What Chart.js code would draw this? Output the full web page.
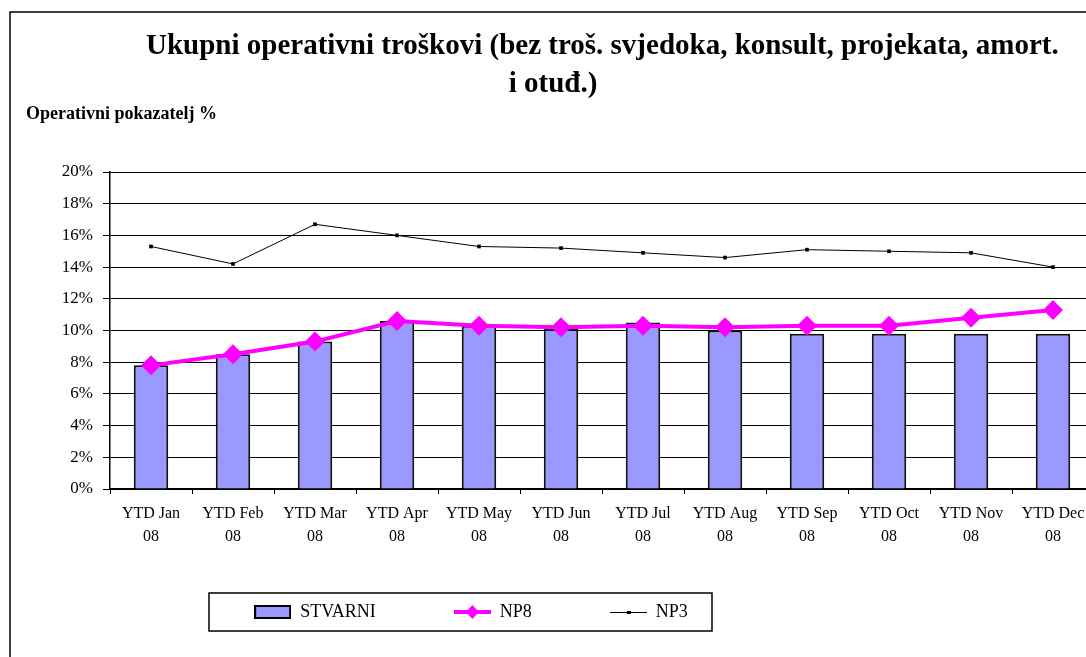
<!DOCTYPE html>
<html>
<head>
<meta charset="utf-8">
<script src="https://cdn.jsdelivr.net/npm/chart.js@4"></script>
<style>
    html, body { margin: 0; padding: 0; overflow: hidden; background: #fff; }
    #wrap { position: absolute; left: 0; top: 0; width: 1110px; height: 657px; }
</style>
</head>
<body>
<div id="wrap"><canvas id="chart" width="1110" height="657"></canvas></div>
<script>
// 数据
const categories = [
    ['YTD Jan', '08'], ['YTD Feb', '08'], ['YTD Mar', '08'], ['YTD Apr', '08'],
    ['YTD May', '08'], ['YTD Jun', '08'], ['YTD Jul', '08'], ['YTD Aug', '08'],
    ['YTD Sep', '08'], ['YTD Oct', '08'], ['YTD Nov', '08'], ['YTD Dec', '08']
];
const stvarni = [7.8, 8.5, 9.3, 10.6, 10.3, 10.1, 10.5, 10.0, 9.8, 9.8, 9.8, 9.8];
const np8 = [7.8, 8.5, 9.3, 10.6, 10.3, 10.2, 10.3, 10.2, 10.3, 10.3, 10.8, 11.3];
const np3 = [15.3, 14.2, 16.7, 16.0, 15.3, 15.2, 14.9, 14.6, 15.1, 15.0, 14.9, 14.0];
const yTicks = [0, 2, 4, 6, 8, 10, 12, 14, 16, 18, 20];

const titleLine1 = 'Ukupni operativni troškovi (bez troš. svjedoka, konsult, projekata, amort.';
const titleLine2 = 'i otuđ.)';
const axisTitle = 'Operativni pokazatelj %';

const SERIF = '"Liberation Serif", "Times New Roman", serif';
const BAR_FILL = '#9999FF';
const NP8_COLOR = '#FF00FF';

// 图例小图标
function makeIcon(kind) {
    const c = document.createElement('canvas');
    c.width = 37;
    c.height = 20;
    const g = c.getContext('2d');
    if (kind === 'bar') {
        g.fillStyle = BAR_FILL;
        g.fillRect(1, 4, 35, 12);
        g.strokeStyle = '#000';
        g.lineWidth = 2;
        g.strokeRect(1, 4, 35, 12);
    } else if (kind === 'np8') {
        g.strokeStyle = NP8_COLOR;
        g.lineWidth = 4;
        g.beginPath();
        g.moveTo(0, 10);
        g.lineTo(37, 10);
        g.stroke();
        g.fillStyle = NP8_COLOR;
        g.beginPath();
        g.moveTo(18.5, 3);
        g.lineTo(25, 10);
        g.lineTo(18.5, 17);
        g.lineTo(12, 10);
        g.closePath();
        g.fill();
    } else {
        g.strokeStyle = '#000';
        g.lineWidth = 1;
        g.beginPath();
        g.moveTo(0, 10.5);
        g.lineTo(37, 10.5);
        g.stroke();
        g.fillStyle = '#000';
        g.fillRect(17, 9, 4, 3);
    }
    return c;
}
const legendIcons = [makeIcon('bar'), makeIcon('np8'), makeIcon('np3')];

// 标题、边框和图例框
const decorPlugin = {
    id: 'decor',
    afterLayout(chart) {
        // 图例位置调整
        const lg = chart.legend;
        lg.left = 105;
        lg.right = 837;
        lg.top = 525;
    },
    beforeDraw(chart) {
        const ctx = chart.ctx;
        ctx.save();
        ctx.fillStyle = '#fff';
        ctx.fillRect(0, 0, chart.width, chart.height);
        ctx.strokeStyle = '#000';
        ctx.lineWidth = 1.5;
        ctx.strokeRect(10, 12, 1090, 700);

        ctx.fillStyle = '#000';
        ctx.textBaseline = 'alphabetic';
        ctx.font = 'bold 29px ' + SERIF;
        ctx.textAlign = 'left';
        ctx.fillText(titleLine1, 146, 54);
        ctx.textAlign = 'center';
        ctx.fillText(titleLine2, 553, 92);

        ctx.font = 'bold 18px ' + SERIF;
        ctx.textAlign = 'left';
        ctx.fillText(axisTitle, 26, 119);

        // 图例边框
        ctx.lineWidth = 1.5;
        ctx.strokeRect(209, 593, 503, 38);
        ctx.restore();
    }
};

const ctx = document.getElementById('chart').getContext('2d');
const chart = new Chart(ctx, {
    data: {
        labels: categories,
        datasets: [
            {
                type: 'line',
                label: 'NP8',
                data: np8,
                borderColor: NP8_COLOR,
                backgroundColor: NP8_COLOR,
                borderWidth: 4,
                pointStyle: 'rectRot',
                pointRadius: 10,
                pointBorderWidth: 0,
                tension: 0,
                order: 1
            },
            {
                type: 'line',
                label: 'NP3',
                data: np3,
                borderColor: '#000',
                backgroundColor: '#000',
                borderWidth: 1,
                pointStyle: 'rect',
                pointRadius: 2.6,
                pointBorderWidth: 0,
                tension: 0,
                order: 2
            },
            {
                type: 'bar',
                label: 'STVARNI',
                data: stvarni,
                backgroundColor: BAR_FILL,
                borderColor: '#111',
                borderWidth: 2,
                barPercentage: 0.42,
                categoryPercentage: 1.0,
                order: 3
            }
        ]
    },
    options: {
        responsive: false,
        animation: false,
        layout: {
            padding: { top: 172, left: 0, right: 16, bottom: 2 }
        },
        plugins: {
            title: { display: false },
            tooltip: { enabled: false },
            legend: {
                display: true,
                position: 'bottom',
                align: 'center',
                labels: {
                    usePointStyle: true,
                    pointStyleWidth: 37,
                    boxHeight: 18,
                    padding: 78,
                    color: '#000',
                    font: { family: SERIF, size: 18 },
                    generateLabels(chart) {
                        const order = ['STVARNI', 'NP8', 'NP3'];
                        return order.map((name, i) => {
                            const idx = chart.data.datasets.findIndex(d => d.label === name);
                            return {
                                text: name,
                                datasetIndex: idx,
                                pointStyle: legendIcons[i],
                                fillStyle: 'transparent',
                                strokeStyle: 'transparent',
                                lineWidth: 0,
                                fontColor: '#000',
                                hidden: false
                            };
                        });
                    }
                }
            }
        },
        scales: {
            x: {
                offset: true,
                grid: {
                    offset: true,
                    drawOnChartArea: false,
                    drawTicks: true,
                    tickLength: 5,
                    tickColor: '#000',
                    color: '#000'
                },
                border: { color: '#000', width: 1.5 },
                ticks: {
                    color: '#000',
                    font: { family: SERIF, size: 16, lineHeight: 1.4 },
                    padding: 9,
                    maxRotation: 0,
                    autoSkip: false
                },
                afterFit(scale) { scale.height = 60; }
            },
            y: {
                min: 0,
                max: 20,
                afterBuildTicks(scale) {
                    scale.ticks = yTicks.map(v => ({ value: v }));
                },
                grid: {
                    color: '#000',
                    lineWidth: 1,
                    tickLength: 7,
                    tickColor: '#000'
                },
                border: { color: '#000', width: 1.5 },
                ticks: {
                    color: '#000',
                    font: { family: SERIF, size: 17 },
                    padding: 10,
                    callback: v => v + '%'
                },
                afterFit(scale) { scale.width = 110; }
            }
        }
    },
    plugins: [decorPlugin]
});
</script>
</body>
</html>
